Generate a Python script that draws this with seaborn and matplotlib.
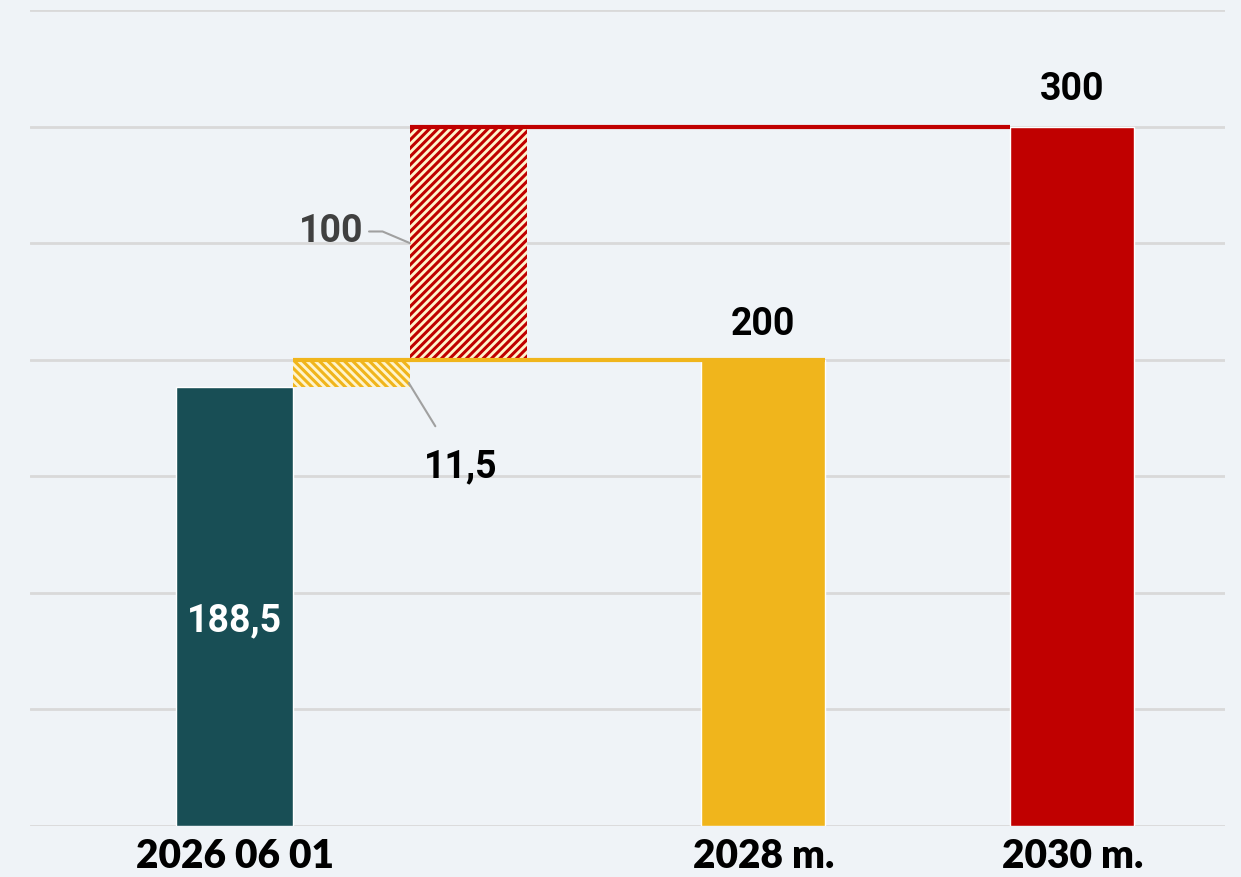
import matplotlib
matplotlib.use("Agg")
import matplotlib.pyplot as plt
import seaborn as sns

# data
categories = ["2026 06 01", "", "", "2028 m.", "2030 m."]
start_value = 188.5
step_values = [11.5, 100]
total_2028 = 200
total_2030 = 300

# layout (bar centres along a numeric axis, the gaps are uneven in the source)
positions = [0, 1, 2, 4.52, 7.16]
widths = [1.0, 1.0, 1.0, 1.06, 1.06]

BG = "#EFF3F7"
TEAL = "#184E55"
YELLOW = "#F0B51C"
RED = "#C00000"
CREAM = "#FFF4CC"

sns.set_theme(style="whitegrid")
plt.rcParams["hatch.linewidth"] = 2.2
plt.rcParams["font.family"] = ["Roboto", "DejaVu Sans"]

fig = plt.figure(figsize=(12.41, 8.77), dpi=100, facecolor=BG)
ax = fig.add_axes([30 / 1241, 1 - 826 / 877, 1195 / 1241, 816 / 877])
ax.set_facecolor(BG)

# total and step bars
ax.bar(positions[0], start_value, width=widths[0], color=TEAL, zorder=2)
ax.bar(positions[1], step_values[0], bottom=start_value, width=widths[1],
       facecolor=CREAM, edgecolor=YELLOW, hatch="\\\\\\\\", linewidth=0, zorder=2)
ax.bar(positions[2], step_values[1], bottom=total_2028, width=widths[2],
       facecolor=CREAM, edgecolor=RED, hatch="////", linewidth=0, zorder=2)
ax.bar(positions[3], total_2028, width=widths[3], color=YELLOW, zorder=2)
ax.bar(positions[4], total_2030, width=widths[4], color=RED, zorder=2)

# connector lines
ax.plot([positions[1] - widths[1] / 2, positions[3] + widths[3] / 2],
        [total_2028, total_2028], color=YELLOW, lw=3, zorder=3,
        solid_capstyle="butt")
ax.plot([positions[2] - widths[2] / 2, positions[4] - widths[4] / 2],
        [total_2030, total_2030], color=RED, lw=3, zorder=3,
        solid_capstyle="butt")

# labels
lab = dict(fontsize=27, fontweight="bold", ha="center", va="center")
ax.text(positions[0], 88, f"{start_value:g}".replace(".", ","), color="white", **lab)
ax.text(positions[3], 215, f"{total_2028:g}", color="black", **lab)
ax.text(positions[4], 316, f"{total_2030:g}", color="black", **lab)
ax.annotate(f"{step_values[0]:g}".replace(".", ","),
            xy=(positions[1] + 0.49, 190), xytext=(1.93, 154),
            color="black", **lab,
            arrowprops=dict(arrowstyle="-", color="#A0A0A0", lw=1.5,
                            shrinkA=16, shrinkB=0))
ax.annotate(f"{step_values[1]:g}", xy=(positions[2] - 0.5, 250),
            xytext=(0.83, 255), color="#404040", **lab,
            arrowprops=dict(arrowstyle="-", color="#A0A0A0", lw=1.5,
                            shrinkA=0, shrinkB=0,
                            connectionstyle="angle,angleA=0,angleB=157,rad=0",
                            relpos=(1.08, 0.5)))

ax.set_xlim(-1.748, 8.466)
ax.set_ylim(0, 350)
ax.set_yticks(range(0, 351, 50))
ax.set_yticklabels([])
ax.set_xticks([positions[0], positions[3], positions[4]])
ax.set_xticklabels([categories[0], categories[3], categories[4]],
                   fontsize=28, fontweight="heavy", color="black",
                   family=["Lato", "DejaVu Sans"])
ax.tick_params(axis="x", length=0, pad=9)
ax.tick_params(axis="y", length=0)
ax.grid(axis="y", color="#D9D9D9", lw=2)
ax.grid(axis="x", visible=False)
for s in ax.spines.values():
    s.set_visible(False)

fig.savefig("out.png", dpi=100, facecolor=BG)
